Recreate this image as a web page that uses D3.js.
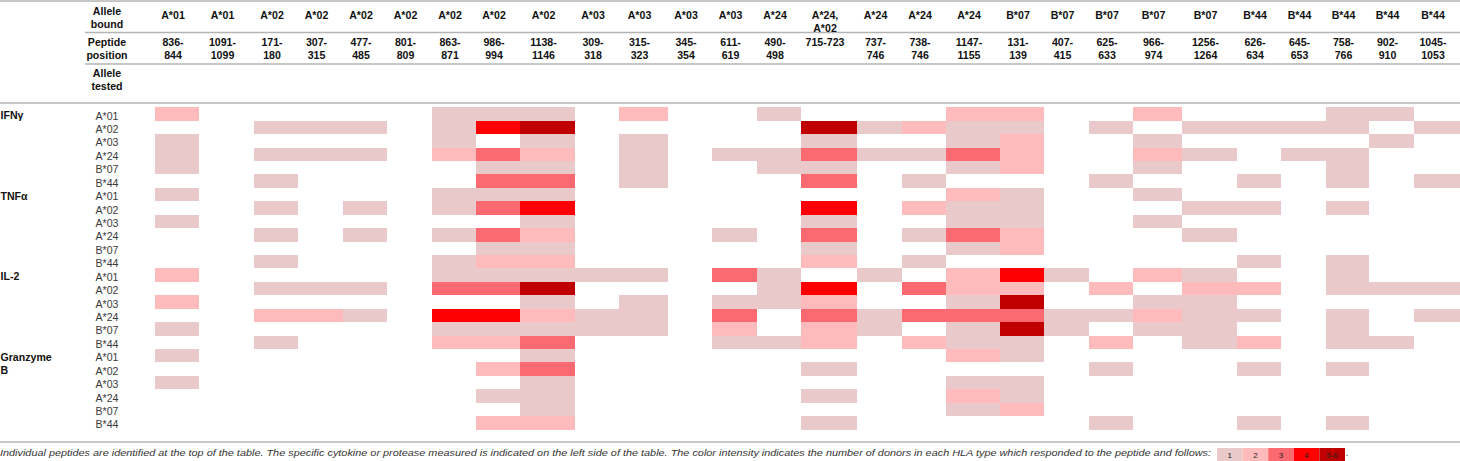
<!DOCTYPE html>
<html><head><meta charset="utf-8">
<script src="https://cdn.jsdelivr.net/npm/d3@7"></script>
<style>
body{margin:0;background:#fff;}
svg{display:block;font-family:"Liberation Sans",Arial,Helvetica,sans-serif;}
</style></head>
<body><svg id="c" width="1460" height="461"></svg>
<script>
// ---------- DATA ----------
const alleleBound = ["A*01","A*01","A*02","A*02","A*02","A*02","A*02","A*02","A*02","A*03","A*03","A*03","A*03","A*24","A*24,|A*02","A*24","A*24","A*24","B*07","B*07","B*07","B*07","B*07","B*44","B*44","B*44","B*44","B*44"];
const peptidePosition = ["836-|844","1091-|1099","171-|180","307-|315","477-|485","801-|809","863-|871","986-|994","1138-|1146","309-|318","315-|323","345-|354","611-|619","490-|498","715-723","737-|746","738-|746","1147-|1155","131-|139","407-|415","625-|633","966-|974","1256-|1264","626-|634","645-|653","758-|766","902-|910","1045-|1053"];
const measures = ["IFNγ","TNFα","IL-2","Granzyme|B"];
const allelesTested = ["A*01","A*02","A*03","A*24","B*07","B*44"];
const levelLabels = ["1","2","3","4","5-6"];

const ifng = [
 [2,0,0,0,0,0,1,1,1,0,2,0,0,1,0,0,0,2,2,0,0,2,0,0,0,1,1,0],
 [0,0,1,1,1,0,1,4,5,0,0,0,0,0,5,1,2,1,1,0,1,0,1,1,1,1,0,1],
 [1,0,0,0,0,0,1,0,1,0,1,0,0,0,1,0,0,1,2,0,0,1,0,0,0,0,1,0],
 [1,0,1,1,1,0,2,3,2,0,1,0,1,1,3,1,1,3,2,0,0,2,1,0,1,1,0,0],
 [1,0,0,0,0,0,0,1,1,0,1,0,0,1,1,0,0,1,2,0,0,1,0,0,0,1,0,0],
 [0,0,1,0,0,0,0,3,3,0,1,0,0,0,3,0,1,0,0,0,1,0,0,1,0,1,0,1]
];
const tnfa = [
 [1,0,0,0,0,0,1,1,1,0,0,0,0,0,0,0,0,2,1,0,0,1,0,0,0,0,0,0],
 [0,0,1,0,1,0,1,3,4,0,0,0,0,0,4,0,2,1,1,0,0,0,1,1,0,1,0,0],
 [1,0,0,0,0,0,0,0,1,0,0,0,0,0,1,0,0,1,1,0,0,1,0,0,0,0,0,0],
 [0,0,1,0,1,0,1,3,2,0,0,0,1,0,3,0,1,3,2,0,0,0,1,0,0,0,0,0],
 [0,0,0,0,0,0,0,1,1,0,0,0,0,0,1,0,0,1,2,0,0,0,0,0,0,0,0,0],
 [0,0,1,0,0,0,1,2,2,0,0,0,0,0,2,0,1,0,0,0,0,0,0,1,0,1,0,0]
];
const il2 = [
 [2,0,0,0,0,0,1,1,1,1,1,0,3,1,0,1,0,2,4,1,0,2,1,0,0,1,0,0],
 [0,0,1,1,1,0,3,3,5,0,0,0,0,1,4,0,3,2,2,0,2,0,2,2,0,1,1,1],
 [2,0,0,0,0,0,0,0,1,0,1,0,1,1,2,0,0,1,5,0,0,1,1,0,0,0,0,0],
 [0,0,2,2,1,0,4,4,2,1,1,0,3,0,3,1,3,3,3,1,1,2,1,1,0,1,0,1],
 [1,0,0,0,0,0,1,1,1,1,1,0,2,0,2,1,0,1,5,1,0,1,1,0,0,1,0,0],
 [0,0,1,0,0,0,2,2,3,0,0,0,1,1,2,0,2,1,1,0,2,0,1,2,0,1,1,0]
];
const granzymeB = [
 [1,0,0,0,0,0,0,0,1,0,0,0,0,0,0,0,0,2,1,0,0,0,0,0,0,0,0,0],
 [0,0,0,0,0,0,0,2,3,0,0,0,0,0,1,0,0,0,0,0,1,0,0,1,0,1,0,0],
 [1,0,0,0,0,0,0,0,1,0,0,0,0,0,0,0,0,1,1,0,0,0,0,0,0,0,0,0],
 [0,0,0,0,0,0,0,1,1,0,0,0,0,0,1,0,0,2,1,0,0,0,0,0,0,0,0,0],
 [0,0,0,0,0,0,0,0,1,0,0,0,0,0,0,0,0,1,2,0,0,0,0,0,0,0,0,0],
 [0,0,0,0,0,0,0,2,2,0,0,0,0,0,1,0,0,0,0,0,1,0,0,1,0,1,0,0]
];
const footnote = "Individual peptides are identified at the top of the table. The specific cytokine or protease measured is indicated on the left side of the table. The color intensity indicates the number of donors in each HLA type which responded to the peptide and follows:";

// ---------- LAYOUT ----------
const W = 1460;
const colWeights = [44,55,44,45,44,45,44,44,55,44,49,44,45,44,56,45,44,54,44,45,44,49,55,44,45,43,45,46];
const cum = [0]; colWeights.forEach(w => cum.push(cum[cum.length-1] + w));
const x = d3.scaleLinear().domain([0, cum[cum.length-1]]).range([155, W]);
const colX = i => x(cum[i]);
const colW = i => x(cum[i+1]) - x(cum[i]);

const groups = [ifng, tnfa, il2, granzymeB];
const rows = [];
groups.forEach((g, gi) => g.forEach((vals, ai) => rows.push({g: gi, a: ai, vals})));
const y = d3.scaleBand().domain(d3.range(rows.length)).range([107.3, 107.3 + 13.43*rows.length]).padding(0);

const color = d3.scaleOrdinal().domain([1,2,3,4,5]).range(["#e9c9c9","#ffbbbb","#fa6a70","#ff0000","#c00000"]);

const svg = d3.select("#c");
const lineColor = "#b4b4b4";

// horizontal rules
[[0,1],[85,32.5],[85,64],[0,103],[0,442]].forEach(([x0,yy]) => {
  svg.append("line").attr("x1",x0).attr("x2",W).attr("y1",yy).attr("y2",yy)
    .attr("stroke",lineColor).attr("stroke-width",1.5);
});

// cells
const cells = [];
rows.forEach((r, ri) => r.vals.forEach((v, ci) => { if (v > 0) cells.push({ri, ci, v}); }));
svg.append("g").selectAll("rect").data(cells).join("rect")
  .attr("x", d => colX(d.ci)).attr("y", d => y(d.ri))
  .attr("width", d => colW(d.ci)).attr("height", y.bandwidth())
  .attr("fill", d => color(d.v)).attr("shape-rendering","crispEdges");

// header helpers
function multi(g, txt, cx, y0, lh, opts) {
  const t = g.append("text").attr("x", cx).attr("y", y0)
    .attr("text-anchor", opts.anchor || "middle")
    .attr("font-size", opts.size || 10.6)
    .attr("font-weight", opts.weight || "bold")
    .attr("fill", opts.fill || "#111");
  txt.split("|").forEach((s, i) => t.append("tspan").attr("x", cx).attr("dy", i ? lh : 0).text(s));
  return t;
}
const hg = svg.append("g");
multi(hg, "Allele|bound", 107, 15, 12.5, {});
multi(hg, "Peptide|position", 107, 45.5, 13, {});
multi(hg, "Allele|tested", 107, 77, 13, {});
alleleBound.forEach((s, i) => multi(hg, s, colX(i) + colW(i)/2 - 4, 19, 12.5, {}));
peptidePosition.forEach((s, i) => multi(hg, s, colX(i) + colW(i)/2 - 4, 45.5, 13.5, {}));

// row labels
const lg = svg.append("g");
rows.forEach((r, ri) => {
  lg.append("text").attr("x", 95.5).attr("y", y(ri) + 12.2)
    .attr("font-size", 10.6).attr("fill", "#3a3a3a").text(allelesTested[r.a]);
});
measures.forEach((m, gi) => {
  const ri = rows.findIndex(r => r.g === gi);
  multi(lg, m, 0.5, y(ri) + 11.8, 13.43, {anchor: "start"});
});

// footnote
svg.append("text").attr("x", 0).attr("y", 456).attr("font-size", 9.6)
  .attr("font-style", "italic").attr("fill", "#333")
  .attr("textLength", 1211).attr("lengthAdjust", "spacingAndGlyphs").text(footnote);

// legend
const lx = d3.scaleBand().domain(d3.range(levelLabels.length)).range([1217, 1345]);
const leg = svg.append("g");
leg.selectAll("rect").data(levelLabels).join("rect")
  .attr("x", (d, i) => lx(i)).attr("y", 448).attr("width", lx.bandwidth()).attr("height", 13)
  .attr("fill", (d, i) => color(i + 1));
leg.selectAll("text").data(levelLabels).join("text")
  .attr("x", (d, i) => lx(i) + lx.bandwidth()/2).attr("y", 457.5)
  .attr("text-anchor", "middle").attr("font-size", 8).attr("fill", "#222").text(d => d);
leg.append("text").attr("x", 1346).attr("y", 456).attr("font-size", 9.6).attr("font-style","italic").attr("fill","#333").text(".");
</script></body></html>
